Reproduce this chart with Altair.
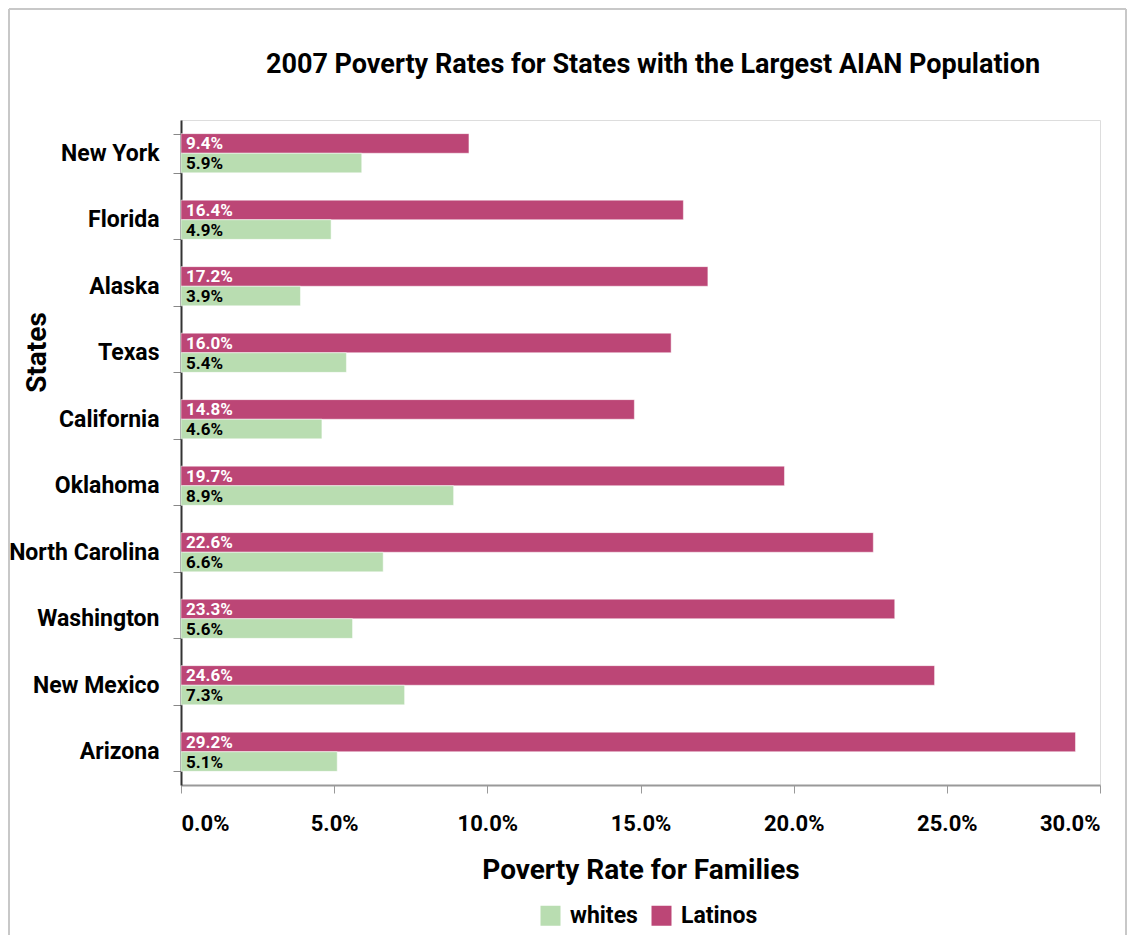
import altair as alt
import pandas as pd

states = ["New York", "Florida", "Alaska", "Texas", "California", "Oklahoma",
          "North Carolina", "Washington", "New Mexico", "Arizona"]
latinos = [9.4, 16.4, 17.2, 16.0, 14.8, 19.7, 22.6, 23.3, 24.6, 29.2]
whites = [5.9, 4.9, 3.9, 5.4, 4.6, 8.9, 6.6, 5.6, 7.3, 5.1]
series = ["whites", "Latinos"]
colors = ["#B9DDB1", "#BC4676"]
label_colors = {"whites": "black", "Latinos": "white"}
x_ticks = [0, 0.05, 0.1, 0.15, 0.2, 0.25, 0.3]
title_text = "2007 Poverty Rates for States with the Largest AIAN Population"

rows = []
for s, l, w in zip(states, latinos, whites):
    rows.append({"State": s, "Group": "Latinos", "Rate": l / 100, "Label": f"{l:.1f}%"})
    rows.append({"State": s, "Group": "whites", "Rate": w / 100, "Label": f"{w:.1f}%"})
df = pd.DataFrame(rows)
df["LabelColor"] = df["Group"].map(label_colors)

FONT = "Roboto"

y_enc = alt.Y("State:N", sort=states, title="States",
              scale=alt.Scale(paddingInner=0.41, paddingOuter=0.205),
              axis=alt.Axis(tickBand="extent", labelFontSize=23, labelFont=FONT,
                            labelFontWeight="bold", labelColor="black",
                            labelPadding=14, tickSize=8, tickColor="#888",
                            domainColor="#333", domainWidth=2,
                            titleFontSize=28, titleFont=FONT, titleFontWeight="bold",
                            titleColor="black", titleX=-136, titleY=232,
                            titleAngle=270, titleAlign="center",
                            titleBaseline="alphabetic"))
yoff = alt.YOffset("Group:N", sort=["Latinos", "whites"])

bars = alt.Chart(df).mark_bar(stroke="white", strokeOpacity=0.5, strokeWidth=1).encode(
    x=alt.X("Rate:Q", title="Poverty Rate for Families",
            scale=alt.Scale(domain=[0, 0.3], nice=False),
            axis=alt.Axis(format=".1%", values=x_ticks,
                          grid=False, labelFontSize=22, labelFont=FONT,
                          labelFontWeight="bold", labelColor="black", labelPadding=20,
                          tickSize=8, tickColor="#999", domainColor="#999", domainWidth=2,
                          titleFontSize=28, titleFont=FONT, titleFontWeight="bold",
                          titleColor="black", titlePadding=22)),
    y=y_enc,
    yOffset=yoff,
    color=alt.Color("Group:N", scale=alt.Scale(domain=series, range=colors),
                    legend=alt.Legend(title=None, orient="none", direction="horizontal",
                                      legendX=358, legendY=784, padding=0,
                                      symbolType="square", symbolSize=400,
                                      symbolStrokeWidth=0, labelFontSize=23,
                                      labelFont=FONT, labelFontWeight="bold",
                                      labelColor="black", columnPadding=12,
                                      labelOffset=8)),
)

labels = alt.Chart(df).mark_text(align="left", baseline="middle", dx=5, dy=1,
                                 fontSize=17, font=FONT, fontWeight="bold").encode(
    x=alt.datum(0),
    y=alt.Y("State:N", sort=states),
    yOffset=yoff,
    text="Label:N",
    color=alt.Color("LabelColor:N", scale=None, legend=None),
)

title = alt.Chart(pd.DataFrame({"t": [title_text]})).mark_text(
    font=FONT, fontSize=27, fontWeight="bold", color="black",
    align="center", baseline="alphabetic").encode(
    text="t:N", x=alt.value(472), y=alt.value(-47))

border_color = "#c8c8c8"
one = pd.DataFrame({"a": [0]})
left_rule = alt.Chart(one).mark_rule(color=border_color, strokeWidth=2).encode(
    x=alt.value(-172), y=alt.value(-111), y2=alt.value(815))
top_rule = alt.Chart(one).mark_rule(color=border_color, strokeWidth=2).encode(
    x=alt.value(-172), x2=alt.value(945), y=alt.value(-111))
right_rule = alt.Chart(one).mark_rule(color=border_color, strokeWidth=2).encode(
    x=alt.value(945), y=alt.value(-111), y2=alt.value(815))

chart = alt.layer(left_rule, top_rule, right_rule, bars, labels, title).properties(
    width=919, height=665,
    padding=0,
).configure_view(stroke="#999", strokeWidth=2).configure(background="white")

chart.save("out.html", embed_options={"renderer": "svg", "actions": False})
